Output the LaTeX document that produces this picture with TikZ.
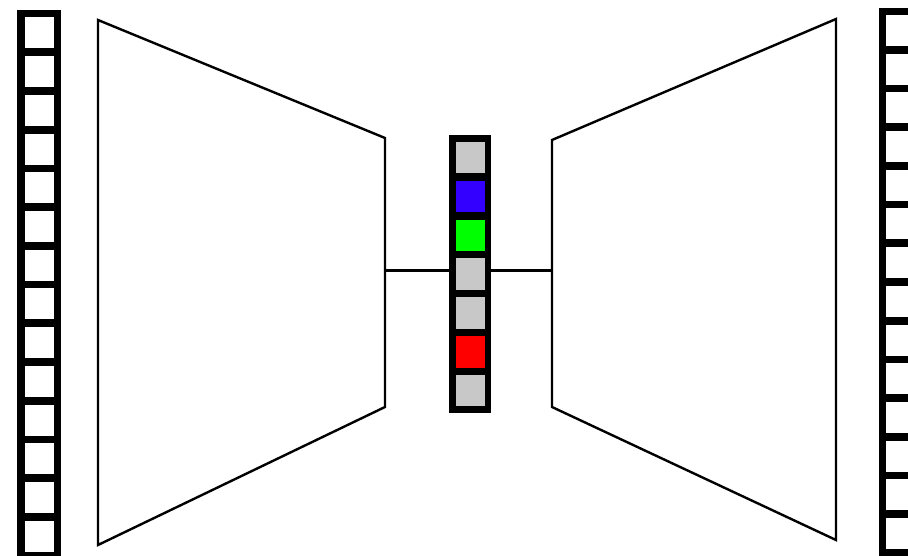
\documentclass[tikz,border=0pt]{standalone}
\definecolor{cgray}{RGB}{200,200,200}
\definecolor{cblue}{RGB}{51,0,255}
\definecolor{cgreen}{RGB}{0,255,0}
\definecolor{cred}{RGB}{255,0,0}
\begin{document}
\begin{tikzpicture}[x=1pt,y=-1pt,
  frame/.style={draw=none, fill=black, inner sep=0pt, outer sep=0pt},
  cell/.style={fill=#1, draw=none, inner sep=0pt, outer sep=0pt, minimum width=29pt, minimum height=31pt},
  trap/.style={draw=black, line width=2.4pt, line join=miter},
  link/.style={draw=black, line width=3pt}]
\useasboundingbox (0,0) rectangle (908,556);
% left column
\node[frame, minimum width=44pt, minimum height=549.3pt] (lcol) at (39,284.65) {};
\foreach \k in {0,...,13} \node[cell=white] (l\k) at (39,33+\k*38.7) {};
% right column
\node[frame, minimum width=43pt, minimum height=548.5pt] (rcol) at (900.5,282.25) {};
\foreach \k in {0,...,13} \node[cell=white] (r\k) at (900,30.5+\k*38.7) {};
% middle column
\node[frame, minimum width=42pt, minimum height=278pt] (mid) at (470,274) {};
\foreach \k/\c in {0/cgray,1/cblue,2/cgreen,3/cgray,4/cgray,5/cred,6/cgray}
  \node[cell=\c, minimum height=31.5pt] (m\k) at (470,157.75+\k*38.8) {};
% trapezoids
\draw[trap] (98,20) -- (385,138) -- (385,407) -- (98,545) -- cycle;
\coordinate (lr) at (385,271);
\draw[trap] (552,140) -- (836,19) -- (836,540) -- (552,407) -- cycle;
\coordinate (rl) at (552,271);
% connectors
\draw[link] (lr) -- (lr -| mid.west);
\draw[link] (rl -| mid.east) -- (rl);
\end{tikzpicture}
\end{document}
